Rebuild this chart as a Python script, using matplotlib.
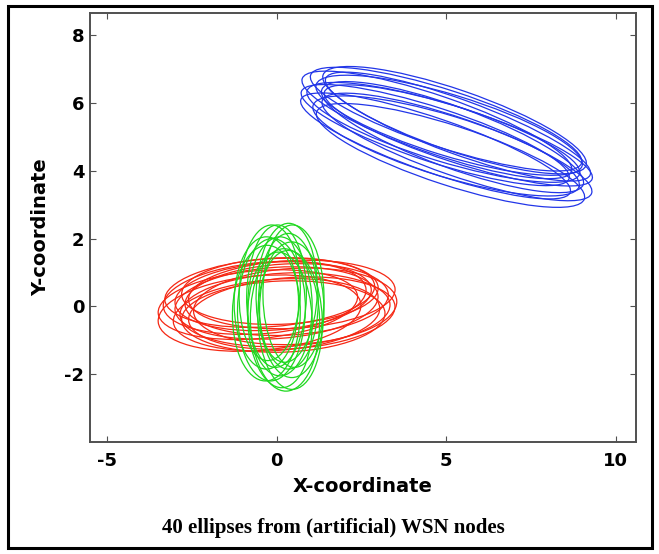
import matplotlib
matplotlib.use("Agg")
import matplotlib.pyplot as plt
from matplotlib.patches import Ellipse, Rectangle

plt.rcParams["axes.unicode_minus"] = False

# ---- data: ellipse parameters (center x, center y, semi-major, semi-minor, angle deg) ----
blue_cx = [5.13, 4.69, 5.00, 5.32, 4.68, 5.19, 4.92, 5.36, 4.73, 5.09, 5.35, 5.00, 5.25]
blue_cy = [4.45, 4.73, 4.73, 4.70, 5.05, 4.99, 5.13, 5.04, 5.35, 5.34, 5.30, 5.52, 5.49]
blue_a = [4.15, 4.20, 4.10, 4.20, 4.15, 4.10, 4.20, 4.15, 4.20, 4.10, 4.15, 4.20, 4.10]
blue_b = [0.88, 0.80, 0.90, 0.85, 0.80, 0.90, 0.85, 0.80, 0.85, 0.90, 0.80, 0.85, 0.90]
blue_ang = [-18, -19, -17, -19, -18, -20, -17, -18, -19, -17, -20, -18, -19]

red_cx = [0.0, 0.45, -0.5, 0.2, -0.2, 0.55, -0.35, 0.1, 0.0, 0.3, -0.55, 0.25, -0.1, 0.45]
red_cy = [0.1, 0.35, -0.2, -0.3, 0.4, 0.0, 0.25, 0.45, -0.25, 0.2, 0.05, -0.1, 0.3, -0.2]
red_a = [3.0, 3.05, 3.0, 3.0, 3.1, 3.0, 3.0, 2.9, 3.05, 3.0, 2.95, 3.1, 2.9, 3.05]
red_b = [1.05, 1.0, 1.1, 1.05, 1.0, 1.12, 1.05, 0.98, 1.05, 1.05, 1.0, 1.08, 1.0, 1.05]
red_ang = [4, 3, 5, 2, 4, 3, 5, 2, 4, 3, 5, 3, 4, 4]

green_cx = [0.1, 0.5, -0.3, 0.4, -0.2, 0.45, 0.0, 0.25, -0.3, 0.3, 0.1, 0.35, -0.15]
green_cy = [0.0, 0.3, -0.2, -0.4, 0.4, -0.1, 0.3, -0.4, 0.1, 0.4, -0.4, 0.15, -0.1]
green_a = [2.05, 2.1, 2.0, 2.05, 2.0, 2.0, 2.1, 2.1, 1.95, 2.05, 2.0, 2.0, 2.1]
green_b = [0.95, 0.9, 1.0, 0.95, 0.9, 0.95, 0.88, 1.02, 0.95, 0.9, 0.95, 0.88, 1.0]
green_ang = [90, 91, 89, 92, 88, 90, 89, 91, 90, 88, 92, 90, 89]

x_ticks = [-5, 0, 5, 10]
y_ticks = [-2, 0, 2, 4, 6, 8]
x_label = "X-coordinate"
y_label = "Y-coordinate"
caption = "40 ellipses from (artificial) WSN nodes"

W, H = 659, 554
fig = plt.figure(figsize=(W / 100, H / 100), dpi=100)
ax = fig.add_axes([90 / W, 1 - 442 / H, (636 - 90) / W, (442 - 13) / H])

groups = [
    (blue_cx, blue_cy, blue_a, blue_b, blue_ang, "#2236e8"),
    (red_cx, red_cy, red_a, red_b, red_ang, "#f52814"),
    (green_cx, green_cy, green_a, green_b, green_ang, "#1fd81f"),
]
for cx, cy, a, b, ang, col in groups:
    for i in range(len(cx)):
        e = Ellipse((cx[i], cy[i]), 2 * a[i], 2 * b[i], angle=ang[i],
                    fill=False, edgecolor=col, linewidth=0.9)
        ax.add_patch(e)

ax.set_xlim(-5.5, 10.6)
ax.set_ylim(-4.0, 8.65)
ax.set_xticks(x_ticks)
ax.set_yticks(y_ticks)
for s in ax.spines.values():
    s.set_color("#505050")
    s.set_linewidth(1.4)
ax.tick_params(direction="in", length=4, width=0.8, color="#505050",
               top=True, right=True, labelsize=13)
ax.tick_params(axis="x", pad=7)
ax.tick_params(axis="y", pad=4)
for lab in ax.get_xticklabels() + ax.get_yticklabels():
    lab.set_fontweight("bold")
    lab.set_family("DejaVu Sans")

ax.set_xlabel(x_label, fontsize=14, fontweight="bold", family="DejaVu Sans", labelpad=5)
ax.set_ylabel(y_label, fontsize=14, fontweight="bold", family="DejaVu Sans", labelpad=10)

fig.text(333 / W, 1 - 528 / H, caption, ha="center", va="center",
         fontsize=15, fontweight="bold", family="Liberation Serif")

fig.patches.append(Rectangle((8 / W, 6 / H), (652 - 8) / W, (548 - 6) / H,
                             transform=fig.transFigure, fill=False,
                             edgecolor="black", linewidth=2.2))

fig.savefig("out.png", dpi=100)
